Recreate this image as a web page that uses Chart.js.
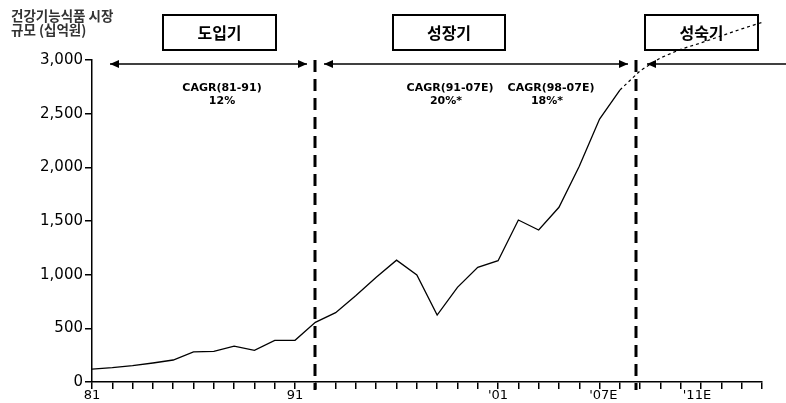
<!DOCTYPE html>
<html>
<head>
<meta charset="utf-8">
<script src="https://cdn.jsdelivr.net/npm/chart.js@4"></script>
<style>
  body { margin: 0; background: #fff; }
</style>
</head>
<body>
<canvas id="graph1" width="786" height="403"></canvas>
<script>
// 실적 (solid line)
var years = [1981, 1982, 1983, 1984, 1985, 1986, 1987, 1988, 1989, 1990, 1991, 1992, 1993, 1994,
             1995, 1996, 1997, 1998, 1999, 2000, 2001, 2002, 2003, 2004, 2005, 2006, 2007];
var marketSize = [120, 133, 152, 177, 205, 280, 286, 335, 295, 388, 388, 556, 646, 805,
                  975, 1135, 997, 624, 882, 1068, 1130, 1509, 1416, 1628, 2010, 2450, 2720];

// 전망 (dotted line)
var forecastYears = [2007, 2008, 2009, 2010, 2011, 2012, 2013, 2014, 2015];
var forecastSize = [2720, 2900, 3020, 3100, 3160, 3225, 3290, 3350, 3390];

// trailing spaces nudge the E labels left like the original
var xTickLabels = { 1981: '81', 1991: '91', 2001: "'01", 2007: "'07E        ", 2011: "'11E  " };
var yTicks = [0, 500, 1000, 1500, 2000, 2500, 3000];

var phaseNames = ['도입기', '성장기', '성숙기'];
var phaseBounds = [1992, 2007.8];
var cagrLabels = ['CAGR(81-91)', 'CAGR(91-07E)', 'CAGR(98-07E)'];
var cagrValues = ['12%', '20%*', '18%*'];

function toPoints(xs, ys) {
    return xs.map(function (x, i) { return { x: x, y: ys[i] }; });
}

function arrowHead(ctx, x, y, dir) {
    ctx.beginPath();
    ctx.moveTo(x, y);
    ctx.lineTo(x - dir * 9, y - 4);
    ctx.lineTo(x - dir * 9, y + 4);
    ctx.closePath();
    ctx.fill();
}

function arrow(ctx, x1, x2, y, left, right) {
    ctx.beginPath();
    ctx.moveTo(x1, y);
    ctx.lineTo(x2, y);
    ctx.stroke();
    if (left) arrowHead(ctx, x1, y, -1);
    if (right) arrowHead(ctx, x2, y, 1);
}

var annotations = {
    id: 'annotations',
    afterDraw: function (chart) {
        var ctx = chart.ctx;
        var xs = chart.scales.x;
        var area = chart.chartArea;
        ctx.save();
        ctx.strokeStyle = '#000';

        // 축 제목
        ctx.fillStyle = '#333';
        ctx.font = 'bold 13.5px "Noto Sans CJK KR"';
        ctx.textAlign = 'left';
        ctx.textBaseline = 'middle';
        ctx.fillText('건강기능식품 시장', 11, 16);
        ctx.fillText('규모 (십억원)', 11, 30);

        // 단계 박스
        var boxes = [[163, 113], [393, 112], [645, 113]];
        ctx.lineWidth = 2;
        ctx.fillStyle = '#000';
        ctx.font = 'bold 16px "Noto Sans CJK KR"';
        ctx.textAlign = 'center';
        boxes.forEach(function (b, i) {
            ctx.strokeRect(b[0], 15, b[1], 35);
            ctx.fillText(phaseNames[i], b[0] + b[1] / 2, 33);
        });

        // 기간 화살표
        ctx.lineWidth = 1.6;
        arrow(ctx, 110, 307, 64, true, true);
        arrow(ctx, 324, 628, 64, true, true);
        arrow(ctx, 647, 786, 64, true, false);

        // CAGR
        ctx.font = 'bold 11px "DejaVu Sans"';
        var cx = [222, 450, 551];
        cx.forEach(function (x, i) {
            ctx.fillText(cagrLabels[i], x, 88);
            ctx.fillText(cagrValues[i], x - (i ? 4 : 0), 101);
        });

        // 단계 구분선
        ctx.lineWidth = 3;
        ctx.setLineDash([12, 7]);
        phaseBounds.forEach(function (yr) {
            var px = Math.round(xs.getPixelForValue(yr));
            ctx.beginPath();
            ctx.moveTo(px, 60);
            ctx.lineTo(px, area.bottom + 8);
            ctx.stroke();
        });
        ctx.restore();
    }
};

new Chart(document.getElementById('graph1').getContext('2d'), {
    type: 'line',
    data: {
        datasets: [{
            data: toPoints(years, marketSize),
            borderColor: '#000',
            borderWidth: 1.3,
            pointRadius: 0,
            tension: 0,
            clip: false
        }, {
            data: toPoints(forecastYears, forecastSize),
            borderColor: '#000',
            borderWidth: 1.2,
            borderDash: [3, 3],
            pointRadius: 0,
            tension: 0,
            clip: false
        }]
    },
    options: {
        responsive: false,
        animation: false,
        layout: { padding: { top: 60, right: 24, left: 0, bottom: 0 } },
        plugins: { legend: { display: false }, tooltip: { enabled: false } },
        scales: {
            x: {
                type: 'linear',
                min: 1981,
                max: 2014,
                afterFit: function (s) { s.height = 21; },
                border: { color: '#000', width: 1.5 },
                grid: { drawOnChartArea: false, drawTicks: true, tickLength: 7, color: '#000', lineWidth: 1.5 },
                ticks: {
                    stepSize: 1,
                    autoSkip: false,
                    maxRotation: 0,
                    padding: -1,
                    color: '#000',
                    font: { family: 'DejaVu Sans', size: 13 },
                    callback: function (v) { return xTickLabels[v] || ''; }
                }
            },
            y: {
                min: 0,
                max: 3000,
                afterFit: function (s) { s.width = 92; },
                afterBuildTicks: function (s) { s.ticks = yTicks.map(function (v) { return { value: v }; }); },
                border: { color: '#000', width: 1.5 },
                grid: { drawOnChartArea: false, drawTicks: true, tickLength: 7, color: '#000', lineWidth: 1.5 },
                ticks: {
                    padding: 2,
                    color: '#000',
                    font: { family: 'DejaVu Sans', size: 15 },
                    callback: function (v) { return v.toLocaleString('en-US'); }
                }
            }
        }
    },
    plugins: [annotations]
});
</script>
</body>
</html>
